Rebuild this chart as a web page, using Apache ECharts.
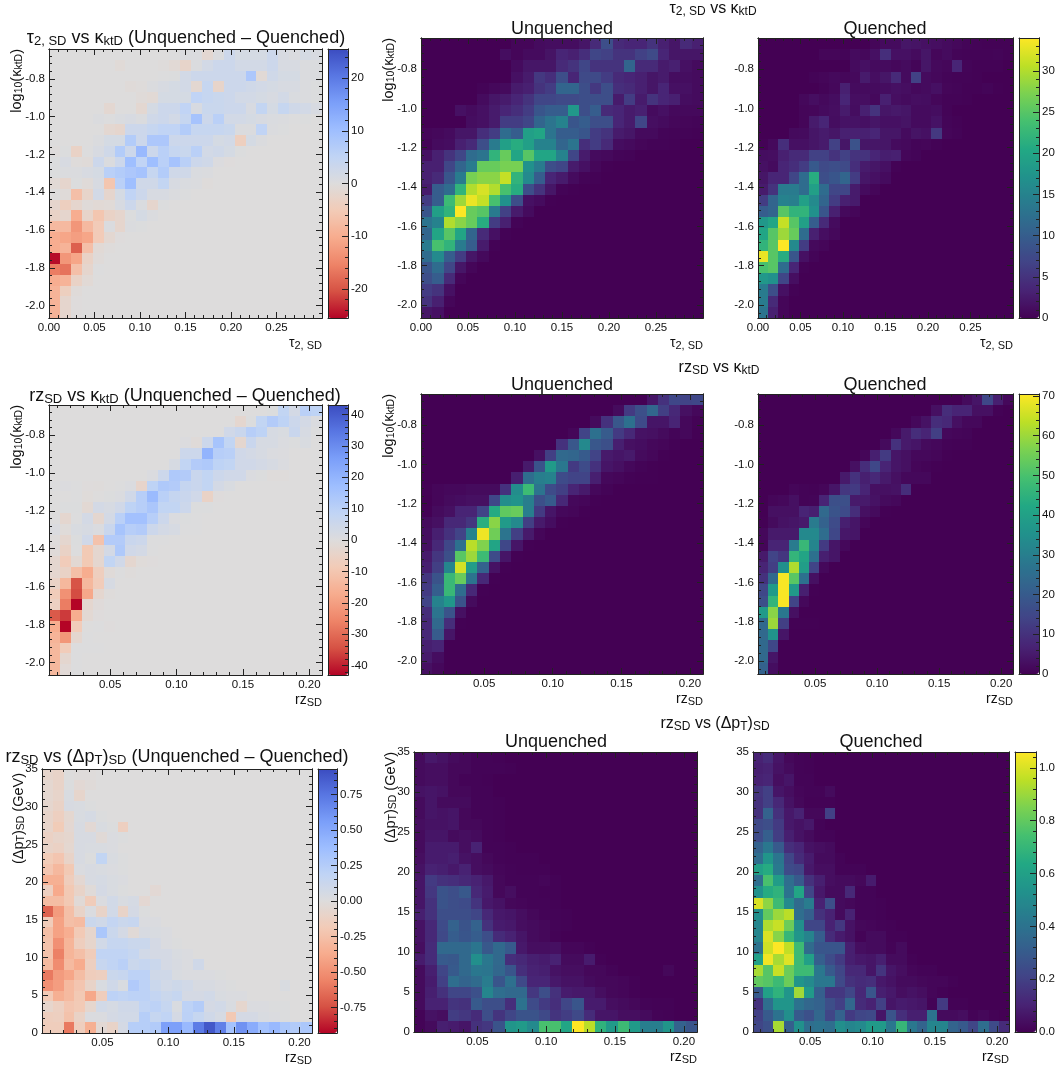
<!DOCTYPE html>
<html><head><meta charset="utf-8">
<style>html,body{margin:0;padding:0;background:#fff}#c{width:1062px;height:1068px}</style>
<script src="https://cdn.jsdelivr.net/npm/echarts@6/dist/echarts.min.js"></script>
</head><body><div id="c"></div>
<script>
// Rows run top to bottom, columns left to right. Cells left off the end of a row are 0.
const tauKappaU=[
[0,0,0,0,0,0,0,0,.5,.5,1,1.2,1.2,1.2,2,4,8,4,3.5,3.5,5,3,2,4,3],
[0,0,0,0,0,0,0,1.2,.5,1,1,1.8,3.5,3,4.5,7,6.5,5,5,6.5,7.5,3.5,2,2,2],
[0,0,0,0,0,0,0,0,1,2,2,2,4,5,7,5,5,5,11,4,4,2.5,3,1.5,1],
[0,0,0,0,0,0,0,0,1.5,2.5,5.5,4.5,8,3.5,7.5,7.5,6,4,3.5,3,2,2.5,1.2,1.2,1],
[0,0,0,0,0,.3,.7,.9,2.5,3,5,6,11,11,8,5.5,8,4.5,4,3,2,3.5,1.5,1.5,1],
[0,0,0,0,0,1,2,2.5,3.5,5,7,7,7.5,7.5,8,8,8,2.5,6,2.5,5,3.5,3,1.2,1],
[0,0,0,1.5,1,1.5,2.5,3.5,4.5,6,9,10,10,18,8,10,4,3.5,2.5,3,1,1.5,.8,.8,.8],
[0,0,0,0,1.2,1.5,2.5,6,6,7,11,13,15,9,10,8,8,3.5,2.5,7,1.3,1,.6,.5,.4],
[.5,.7,1,2,2,4.5,6,12,10,19,20,13,10,10,9,6,5,2.5,2,.9,.9,.4,.3,.3,.2],
[.3,1,1.2,3,4,8,14,19,21,19,15,15,11,13,4.5,6,4,1.2,.9,.5,.3,.3,.2],
[1.5,3,5,7,12,13,22,26,20,25,20,20,15,7,2.5,1,.8,.4,.3],
[3,3,7,11,14,26,26,27,27,17,14,8,7,2.5,1.5,.6,.1],
[3,4,9,14,27,28,28,31,22,16,10,3.5,2.5,1,.3,.2],
[2.5,10,12,22,30,32,30,24,21,8,5,2,.3,.1],
[6,10,23,29,33,31,24,17,8,1.5,1,.1],
[9,19,22,34,26,25,14,6.5,2.5,1],
[13,15,30,28,26,21,6,3,.3],
[11,20,25,20,11,4,1.5,.2],
[14,24,22,14,10,2.5,.2],
[12,16,10,6,2,.8],
[9,12,7,2,.5],
[8,10,4,.5],
[6,5,1.5],
[5,3,.5],
[2,1.5]];
const tauKappaQ=[
[0,0,0,0,0,0,0,0,0,0,0,.5,1,1,2,1.8,1.5,1.3,1,.7,.4,.3,.2,.2,.2],
[0,0,0,0,0,0,.5,.5,.4,1,.7,1.5,4.5,1.5,1.5,1,2,.6,1,.4,.3,.3,.3,.4,.2],
[0,0,0,0,0,0,0,0,0,1,1.5,1,1,.7,1,.4,2,.8,.6,3.5,.4,.2,.2,.2],
[0,0,0,0,0,.3,.5,.8,.6,.8,2.5,1.3,2,4,1,6.5,1,.7,.4,.3,.3,.2],
[0,0,0,0,0,0,.3,.7,3,1,1,1,1.2,1.5,1.3,.8,1,1.5,.5,.4,.2,.2,.4,.1],
[0,0,0,0,.7,1.3,.8,1.2,3.5,1.3,1.3,.8,3,1.3,1,1.3,1.2,.6,.3,.3,.2],
[0,0,0,0,.5,.6,1,1.3,2.5,1.2,3,5,2,2.3,2,1,1,1.2,.3],
[0,0,0,0,.5,2.5,3.5,1.2,1.7,1.7,1.5,2,1.5,1.5,1.8,1,1,1.7,.4,.2],
[0,0,0,.9,1,2,2.5,2,3,3,3,3.5,2,2,1,1.8,1.5,5.5,.5,.3],
[.2,.8,4.5,1.5,1.5,2,2.5,6.5,2,8.5,2,2,2,1,.8,.4,.5,.2],
[1.2,1.3,3,4,4,6.5,6.5,5,6.5,5,5,3.5,2.8,3,.6,.4],
[1.5,1,3.5,4.5,6,9.5,7.5,8,7.5,4.5,2.5,2,1.5,.2],
[2,3.5,3.5,7,12,21,8,9,11,6,2,1.5,1],
[2.5,5,14,14,12,19,12,7,7,2.5,1,.5],
[6,11,15,14.5,19,16,11,6,3,2.5],
[10,11,25,22,22,17,9,3,.8,.5],
[18,20,31,25,19,10,4,1],
[20,25,29,26,12,3,1.3,.7],
[22,25,34,16,6,.8,.5],
[33,25,21,9,1.5,.4],
[24,25,12,3.5,.2],
[18,17,7,1.3],
[14,8,1.5,.2],
[14,4,.5],
[13,3,.5]];
const tauKappaDiff=[
[0,0,0,0,0,0,0,0,0,0,0,.2,.5,.5,-1.5,.5,3,1.5,1.5,1.5,3,1,.5,1.5,1],
[0,0,0,0,0,0,-.7,0,0,0,-.3,-1,-2.5,.5,2,3,3,2,2,2,3,1,1,.5,.5],
[0,0,0,0,0,0,0,0,0,0,.2,.3,2,3,3,3,3,3,8,-1,2.5,1.5,1.5,.5,.5],
[0,0,0,0,0,0,0,-.5,-.3,.5,1,1.5,2,-1.5,4,-2.5,3,3,2.5,2,1.5,1,1,.5,.3],
[0,0,0,0,0,0,0,0,-.5,-1,1.5,1.5,1.5,5,4,3.5,3,2,2,1.5,1,2,.7,.5,.3],
[0,0,0,0,0,-1.5,0,0,-1.5,1.5,3,3,5,1,3.5,3.5,3,3,1,4.5,1.5,4,2.5,2,1],
[0,0,0,0,.5,.2,.7,1,.5,2.5,3,2,4,9,3,6,2,2,1.5,1,.7,.5,.2,.3],
[0,0,0,0,0,-1.5,-2,3,3,4,5,5,7,4,4,4,3.5,.5,.5,5,.5,.3],
[0,0,0,0,.5,1.5,1.5,7,3,8,8,3,3,3,3,1.5,2,-4,1.5,.5],
[-.3,.3,-3,.2,1,2.5,7,3,11,3,6,4,3.5,6,2,2.5,1.5,.3],
[.3,1,-.3,-.5,3,.5,3,10,5,10,6,9,6,3,2.5,.4,-.2],
[.3,.5,.5,1,1.5,6,7,8,9,4,7,2.5,2.5,.7,.5],
[-1,-2,.3,-.5,1,-6,6,10,2.5,2.5,4.5,1,.7,.5,-.3],
[0,-.5,-7,-2.5,2,-2,1.5,5,3,1,1,.5,.3],
[-2,-4,-2,-.5,-1,-.7,1,3,.7,-2,.3],
[-3,-2,-10,-2.5,-6,-3,-2,.3,1.5,.5],
[-8,-8,-13,-8,-5,.5,-2,.5,.3],
[-10,-11,-12,-11,-5,-1.5,-.2],
[-10,-9,-19,-7,-1,-.3],
[-25,-13,-11,-3,-.5],
[-16,-17,-7,-2,.2],
[-10,-9,-3,-1],
[-9,-4,-.5],
[-9,-2,-.2],
[-9,-2,-.2]];
const rzKappaU=[
[0,0,0,0,0,0,0,0,0,0,0,0,0,0,0,0,0,0,0,0,4,10,15,14,15],
[0,0,0,0,0,0,0,0,0,0,0,0,0,0,0,0,0,2,12,17,23,13,8,3,1.5],
[0,0,0,0,0,0,0,0,0,0,0,0,0,0,0,2,10,19,26,16,4,4,7,1.5,.5],
[0,0,0,0,0,0,0,0,0,0,0,0,0,1,14,26,20,12,8,3.5,3,2,.8,1.5,.3],
[0,0,0,0,0,0,0,0,0,0,0,0,10,19,33,19,17,6,3,2.5,1.5,1,.4],
[0,0,0,0,0,0,0,0,0,0,3,13,24,23,20,14,5,4,5,2,1.2,.3],
[0,0,0,0,0,0,0,0,0,5,18,38,28,12,16,10,4,3,1.5,.6,.3],
[0,0,0,0,0,0,0,0,6,25,30,31,16,14,14,6,1.5,1,.5,.3,.2],
[.3,1,1.5,1.5,2,2,2,10,34,48,27,16,13,7,5,1.5,.6],
[0,1,2,2.5,3,3,15,34,36,30,17,20,8,1.5,1,.3],
[.3,2,3,7,7,14,43,53,54,30,12,4,1.5,1,.2],
[2,3,8,8,11,44,58,38,33,13,5,2.5,.2],
[2.5,6,10,14,31,69,55,27,13,5,1],
[3,8,15,26,63,57,41,15,4,.3],
[5,11,17,52,60,48,16,4,.3],
[6,13,32,66,39,22,3.5,.3],
[11,18,47,54,27,8,.3],
[12,21,47,25,8,.3],
[14,31,37,18,2],
[9,27,18,3],
[8,24,9,.2],
[8,20,4],
[6,7],
[5,2.5],
[3,1.5]];
const rzKappaQ=[
[0,0,0,0,0,0,0,0,0,0,0,0,0,0,0,0,0,0,0,0,2,4,15,6,1.5],
[0,0,0,0,0,0,0,0,0,0,0,0,0,0,0,0,0,3,9,7,7,3,3,.5],
[0,0,0,0,0,0,0,0,0,0,0,0,0,0,0,1.5,3.5,9,8,3,1.5,1.5],
[0,0,0,0,0,0,0,0,0,0,0,0,0,1.5,5,9,7,13,1.5,1,.8],
[0,0,0,0,0,0,0,0,0,0,0,0,2,10,5,4,2,1.5,.7,.5,.5],
[0,0,0,0,0,0,0,0,0,0,1,6,12,4,3,1.5,1.5,1,.3],
[0,0,0,0,0,0,0,0,0,3,9,15,7,4,3,1,.7,.3],
[0,0,0,0,0,0,0,0,5,10,6,8,5,3,1.5,1.5,1.5],
[0,0,0,1,.7,.5,1,4,11,12,7,3,3,3.5,9],
[0,1,1.5,3,.7,.8,7,17,17,5,5,3.5,2,1.5],
[0,3,3,3,7,6,24,18,16,9,3,2,.3],
[.3,2,3.5,4,5,29,22,16,6,4,1],
[1.5,5,5,5,33,33,25,15,4.5,4],
[1,7,7,29,47,32,12,4,1.5],
[5,14,11,46,41,26,6,4],
[7,13,35,62,39,14,1.5],
[10,24,70,52,26,3],
[15,38,70,38,6,.3],
[17,46,70,14,1.5],
[38,58,28,3],
[24,60,13,.3,.2,.2],
[24,36,4],
[24,15],
[24,4],
[22,2.5]];
const rzKappaDiff=[
[0,0,0,0,0,0,0,0,0,0,0,0,0,0,0,0,0,0,0,0,.5,8,3,10,9],
[0,0,0,0,0,0,0,0,0,0,0,0,0,0,0,0,0,-3,.5,8,12,9,5,3,1],
[0,0,0,0,0,0,0,0,0,0,0,0,0,0,0,0,4,6,11,9,2,1.5,6,2,.2],
[0,0,0,0,0,0,0,0,0,0,0,0,.7,-1,5,15,8,-3,6,2,2,1,.5,1.5],
[0,0,0,0,0,0,0,0,0,0,0,0,5,5,20,11,10,4,3,2,1,.7],
[0,0,0,0,0,0,0,0,0,0,0,2,8,12,13,9,8,4,4,3,2,1],
[0,0,0,0,0,0,0,0,0,1,5,13,12,6,8,5,4,4,1,.5,-.5,-.5],
[.3,.7,.3,-.3,-.5,0,.3,1,-4,9,13,12,7,6,8,3,1.5],
[0,0,.2,-.7,0,.5,1,4,11,18,10,7,6,4,-5,-.3],
[0,.5,.5,-2,3,2,4,9,11,14,8,8,5,.5,.5],
[0,-3,.3,3,-3,3,10,16,16,11,5,1,.5,.3],
[1,-.7,1.5,2,1,6,15,11,12,5,3,2,.3,.2],
[-.5,-3,.5,4,-11,12,12,6,5,.3,.3],
[-1,-5,.3,-9,-3,3,13,4,3,.3],
[-3,-8,-2,-9,-3,8,4,-3,-.7,-.3],
[-3,-5,-12,-17,-7,-1,.3,-.5],
[-5,-14,-34,-14,-8,2],
[-8,-23,-35,-18,-3,-.5],
[-6,-27,-43,-3,-.8],
[-33,-37,-17,-2,-.3],
[-17,-43,-8,0,.2,-.3],
[-15,-22,-3,.2],
[-14,-8,.2,.2,.2],
[-14,-3,.2],
[-14,-1.5,.2]];
// The rz vs delta pT grids are written in hundredths.
const rzPtU=[
[3,7,5,3,2,1,1,.5],
[3,4,4,2,2,1,1,1,.5],
[3,4,4,2,1,1,.5],
[5,6,5,2,2,1,1],
[3,6,3,3,3,1,1,.5],
[3,6,5,6,2,1,1,.5],
[4,5,5,6,2,2,1,.5],
[3,6,6,3,4,3,1,.5],
[3,8,8,8,4,10,1,1,.5],
[4,8,8,9,5,4,2,1,.5,.5,.5],
[5,10,9,7,10,4,3,1.5,1,.5,.5,.5],
[6,18,15,14,12,10,7,2,1,1,1,1.5,.5],
[6,17,27,25,29,12,8,2,4,1,1,.5,.5],
[6,15,27,25,24,16,7,5,2,1.5,1,1,.5],
[9,15,25,25,25,22,12,7,6,4,2,1,1,.5],
[5,12,24,33,27,33,15,8,7,4,3,2,1,.5],
[5,12,23,31,28,31,25,13,10,6,3,2,.5],
[4,13,36,36,36,41,29,36,30,7,4,4,4.5,1.5,1.5,.5],
[8,13,30,29,36,52,42,36,14,12,9,8,10,3,3,8,.5],
[3,9,22,30,36,42,41,35,28,14,10,9,5,4,4,2,2,1,0,0,0,0,2],
[3,8,20,38,34,37,44,28,39,23,11,11,7,5,5,3,2,2,1.5,.5],
[3,9,15,22,22,26,48,38,36,36,17,25,15,8,7,7,4,2,1.5,.5],
[3,10,10,16,15,30,25,25,14,40,24,18,14,22,28,8,8,4,3,2,1,.5,.5],
[1,5,4,19,17,13,25,16,22,27,27,23,16,19,23,13,6,6,4,4,3,1,.5],
[1,3,9,8,6,15,17,27,55,57,50,75,75,62,106,95,68,57,72,57,45,45,55,33,28]];
const rzPtQ=[
[10,13,6,2,1,.5],
[9,10,5,3,1,.5],
[10,11,4,6,1,1],
[16,20,6,4,1.5,1,1,3],
[15,20,12,5,2,.5,.5,.5],
[15,33,15,7,10,2,2,20],
[23,25,18,7,5,7,1],
[24,32,19,9,5,3,1,1],
[33,42,30,14,11,5,4,3],
[38,55,41,22,13,8,3,3,1],
[60,65,43,24,22,7,4,4,1,1,1],
[38,75,58,38,30,15,9,4,3,3,2,8],
[53,65,68,40,62,22,7,3,3,12,1,1],
[100,88,72,50,37,44,10,25,3,2,1,1,.5],
[52,80,90,95,38,32,15,10,3,10,1,1,.5],
[48,93,97,82,52,22,22,10,17,5,2,1.5,1,.5],
[48,100,87,70,55,47,31,13,8,5,1,3,3,.5,.5],
[40,98,106,96,72,37,28,28,28,9,4,3,3,1,3],
[60,104,92,101,72,60,32,24,18,9,7,6,9,3,3,.5],
[92,78,97,82,72,72,42,30,22,12,12,6,16,6,4,1.5,1,1],
[80,78,72,82,55,50,42,42,23,15,13,14,7,5,3,3,2,1.5,1.5,.5],
[30,60,68,55,91,57,32,17,17,22,12,28,9,7,4,5,4,1.5,.5],
[15,38,55,55,40,35,33,25,20,35,13,10,20,6,8,7,6,1,18,.5,.5],
[20,30,40,52,30,26,35,22,33,18,22,23,6,27,14,9,9,40,3,3,4,1,2,.5],
[22,26,92,32,53,38,40,38,52,48,50,57,57,42,70,42,34,48,48,34,30,22,38,24,13]];
const rzPtDiff=[
[-8,-10,0,-1,-1],
[-6,-10,1,-4,-2],
[-6,-9,3,-8,0],
[-7,-11,4,3,1],
[-9,-14,-6,3,5,1],
[-9,-18,-5,4,-4,3,1,-14],
[-12,-9,-7,4,4,-3,2,1],
[-10,-12,-6,4,3,3,2],
[-18,-22,-10,4,1,17,3,1],
[-22,-30,-20,2,4,3,2,1],
[-35,-35,-16,-5,4,5,3,2],
[-14,-38,-20,-10,-2,6,3,1,0,0,-4],
[-27,-27,-20,-3,-17,2,8,3,5,-5],
[-68,-45,-26,-10,2,-10,8,-10,6,1],
[-17,-42,-26,-28,12,9,16,12,14,2,2],
[-26,-42,-36,-19,-8,30,12,6,-3,4,3,2],
[-24,-50,-32,-15,-8,8,15,15,12,12,6,2,1],
[-24,-57,-32,-26,-17,18,18,18,15,8,6,6,3,2],
[-29,-52,-29,-37,-14,14,18,22,12,15,12,6,4,2,9],
[-60,-45,-40,-27,-16,-14,12,14,20,20,9,9,3,2,2,2,1],
[-50,-44,-29,-22,-10,3,9,3,27,20,12,8,10,8,4,4,2,1,0,0,0,0,3],
[-19,-35,-29,-20,-39,-16,20,18,20,20,16,12,15,6,6,8,3,2,2],
[-8,-13,-22,-19,-7,8,5,9,9,18,20,15,3,20,25,6,8,3,-7,2,2,1,1],
[-15,-14,-24,-11,2,2,6,8,8,24,15,18,6,21,15,9,5,-20,6,6,3,2,1],
[-16,-16,-60,-15,-35,-4,-10,6,24,24,26,55,55,40,72,88,70,34,62,48,34,40,30,26,30]];

const tauTicks=[0,.05,.1,.15,.2,.25];
const rzTicks=[.05,.1,.15,.2];
const kappaTicks=[-2,-1.8,-1.6,-1.4,-1.2,-1,-.8];
const ptTicks=[0,5,10,15,20,25,30,35];
const barTicks1=[0,5,10,15,20,25,30];
const barTicks2=[0,10,20,30,40,50,60,70];
const barTicks3=[0,.2,.4,.6,.8,1];
const diffTicks1=[-20,-10,0,10,20];
const diffTicks2=[-40,-30,-20,-10,0,10,20,30,40];
const diffTicks3=[-.75,-.5,-.25,0,.25,.5,.75];

const tauName='{m|τ}{s|2, SD}';
const rzName='{m|rz}{s|SD}';
const kappaName='{m|log}{s|10}{m|(κ}{s|ktD}{m|)}';
const ptName='{m|(Δp}{s|T}{m|)}{s|SD}{m| (GeV)}';
const rowTitles=['{m|τ}{s|2, SD}{m| vs κ}{s|ktD}','{m|rz}{s|SD}{m| vs κ}{s|ktD}','{m|rz}{s|SD}{m| vs (Δp}{s|T}{m|)}{s|SD}'];
const diffSuffix='{m| (Unquenched – Quenched)}';

const viridis=['#440154','#482475','#414487','#355f8d','#2a788e','#21918c','#22a884','#44bf70','#7ad151','#bddf26','#fde725'];
const coolwarmR=['#b40426','#d65244','#ee8468','#f7ac8e','#f2cbb7','#dddcdc','#c0d4f5','#9ebeff','#7b9ff9','#5977e3','#3b4cc0'];
const FONT='"Liberation Sans",Arial,sans-serif';
const INK='#222';

function richFor(big,small,drop){return{m:{fontFamily:FONT,fontWeight:'normal',fontSize:big,color:'#111'},s:{fontFamily:FONT,fontWeight:'normal',fontSize:small,color:'#111',padding:[drop,0,0,0]}};}
function steps(range,step){const o=[];const k0=Math.ceil(range[0]/step-1e-9),k1=Math.floor(range[1]/step+1e-9);for(let k=k0;k<=k1;k++)o.push(Math.round(k*step*1e6)/1e6);return o;}

const grids=[],xAxes=[],yAxes=[],series=[],visualMaps=[],titles=[];

function side(list,g,pos,range,majors,minors,opt){
  opt=opt||{};
  const base={gridIndex:g,type:'value',position:pos,min:range[0],max:range[1],z:10,scale:true,splitLine:{show:false},splitArea:{show:false},minorTick:{show:false},
    axisLine:{show:true,onZero:false,lineStyle:{color:INK,width:1}}};
  const a=Object.assign({},base,{
    axisTick:{show:!!majors,inside:true,length:6,lineStyle:{color:INK,width:1},customValues:majors||[]},
    axisLabel:opt.digits===undefined?{show:false}:{show:true,margin:opt.margin||4,fontFamily:FONT,fontSize:11.5,color:'#111',customValues:majors,formatter:v=>v.toFixed(opt.digits),showMinLabel:true,showMaxLabel:true,hideOverlap:false}
  });
  if(opt.name){a.name=opt.name;a.nameLocation='end';a.nameGap=opt.gap||0;a.nameMoveOverlap=false;a.nameRotate=opt.rot||0;a.nameTextStyle=opt.nameStyle;}
  list.push(a);
  const idx=list.length-1;
  if(minors)list.push(Object.assign({},base,{axisLabel:{show:false},axisTick:{show:true,inside:true,length:3,lineStyle:{color:INK,width:1},customValues:minors}}));
  return idx;
}

function panel(box,rows,xr,yr,xt,xmin,yt,ymin,xd,yd,xName,yName,scale,nameGapY){
  const g=grids.length;
  grids.push({left:box[0],top:box[1],width:box[2],height:box[3],containLabel:false});
  const xm=steps(xr,xmin),ym=steps(yr,ymin);
  const xi=side(xAxes,g,'bottom',xr,xt,xm,{digits:xd,name:xName,nameStyle:{rich:richFor(14,11,5),align:'right',verticalAlign:'top',padding:[17,0,0,0]}});
  side(xAxes,g,'top',xr,xt,xm);
  const yi=side(yAxes,g,'left',yr,yt,ym,{digits:yd,name:yName,rot:90,gap:nameGapY||0,nameStyle:{rich:richFor(14.5,10.5,5),align:'right',verticalAlign:'bottom',padding:[0,0,box[4]||24,0]}});
  side(yAxes,g,'right',yr,yt,ym);
  const dx=(xr[1]-xr[0])/25,dy=(yr[1]-yr[0])/25,data=[];
  rows.forEach((row,j)=>{for(let i=0;i<25;i++){data.push([xr[0]+(i+.5)*dx,yr[1]-(j+.5)*dy,(row[i]||0)*scale]);}});
  series.push({type:'custom',xAxisIndex:xi,yAxisIndex:yi,silent:true,clip:true,z:2,encode:{x:0,y:1},data,
    renderItem:(p,api)=>{const x=api.value(0),y=api.value(1);const a=api.coord([x-dx/2,y+dy/2]),b=api.coord([x+dx/2,y-dy/2]);
      const l=Math.round(a[0]),t=Math.round(a[1]),r=Math.round(b[0]),bo=Math.round(b[1]);
      return{type:'rect',shape:{x:l,y:t,width:r-l,height:bo-t},style:{fill:api.visual('color')}};}});
  return series.length-1;
}

function colorbar(box,min,max,ticks,minorStep,digits,colors,seriesIdx){
  const g=grids.length,r=[min,max];
  grids.push({left:box[0],top:box[1],width:box[2],height:box[3]});
  side(xAxes,g,'bottom',[0,1]);side(xAxes,g,'top',[0,1]);
  side(yAxes,g,'left',r);
  side(yAxes,g,'right',r,ticks,steps(r,minorStep),{digits,margin:3});
  yAxes[yAxes.length-2].axisLabel.align='left';
  visualMaps.push({type:'continuous',min,max,seriesIndex:seriesIdx,dimension:2,calculable:false,hoverLink:false,left:box[0],top:box[1],itemWidth:box[2],itemHeight:box[3],padding:0,orient:'vertical',text:null,z:4,inRange:{color:colors}});
}

function head(text,x,y,big,small,drop){titles.push({text,left:x,top:y,textAlign:'center',textVerticalAlign:'middle',padding:0,textStyle:{fontWeight:'normal',rich:richFor(big,small,drop)}});}

const TAU=[0,.3],KAPPA=[-2.066,-.642],RZ=[.004,.2095],PT=[0,35];

let a,b;
a=panel([49,49,273,269],tauKappaDiff,TAU,KAPPA,tauTicks,.01,kappaTicks,.04,2,1,tauName,kappaName,1);
colorbar([328,49,20,269],-25.5,25.5,diffTicks1,2,0,coolwarmR,a);
a=panel([421,38,282,280],tauKappaU,TAU,KAPPA,tauTicks,.01,kappaTicks,.04,2,1,tauName,kappaName,1);
b=panel([758,38,255,280],tauKappaQ,TAU,KAPPA,tauTicks,.01,kappaTicks,.04,2,1,tauName,null,1);
colorbar([1019,38,20,280],0,34,barTicks1,1,0,viridis,[a,b]);

a=panel([49,405,273,270],rzKappaDiff,RZ,KAPPA,rzTicks,.01,kappaTicks,.04,2,1,rzName,kappaName,1);
colorbar([328,405,20,270],-43,43,diffTicks2,2,0,coolwarmR,a);
a=panel([421,394,282,280],rzKappaU,RZ,KAPPA,rzTicks,.01,kappaTicks,.04,2,1,rzName,kappaName,1);
b=panel([758,394,255,280],rzKappaQ,RZ,KAPPA,rzTicks,.01,kappaTicks,.04,2,1,rzName,null,1);
colorbar([1019,394,20,280],0,70.5,barTicks2,2,0,viridis,[a,b]);

a=panel([42,769,270,264,15],rzPtDiff,RZ,PT,rzTicks,.01,ptTicks,1,2,0,rzName,ptName,.01,-4);
colorbar([318,769,19,264],-.93,.93,diffTicks3,.05,2,coolwarmR,a);
a=panel([414,752,283,280,15],rzPtU,RZ,PT,rzTicks,.01,ptTicks,1,2,0,rzName,ptName,.01);
b=panel([753,752,256,280],rzPtQ,RZ,PT,rzTicks,.01,ptTicks,1,2,0,rzName,null,.01);
colorbar([1015,752,21,280],0,1.06,barTicks3,.04,1,viridis,[a,b]);

head(rowTitles[0],713,9,16,12,5);
head(rowTitles[1],719,368,16,12,5);
head(rowTitles[2],715,724,16,12,5);
head(rowTitles[0]+diffSuffix,186,38,18,13,6);
head(rowTitles[1]+diffSuffix,185,396,18,13,6);
head(rowTitles[2]+diffSuffix,177,757,18,13,6);
[[562,885,29],[562,885,385],[556,881,742]].forEach(r=>{head('{m|Unquenched}',r[0],r[2],18,12,0);head('{m|Quenched}',r[1],r[2],18,12,0);});

const chart=echarts.init(document.getElementById('c'),null,{renderer:'canvas'});
chart.setOption({animation:false,backgroundColor:'#fff',tooltip:{show:false},title:titles,grid:grids,xAxis:xAxes,yAxis:yAxes,visualMap:visualMaps,series});
</script></body></html>
